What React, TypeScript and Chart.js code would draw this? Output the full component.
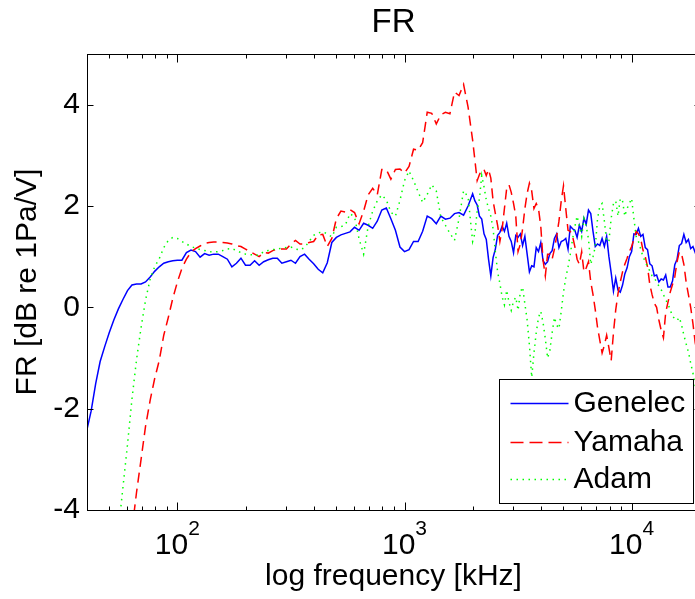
import React, { useEffect, useRef } from 'react';
import { Chart, registerables } from 'chart.js';

Chart.register(...registerables);

const TITLE = 'FR';
const X_TITLE = 'log frequency [kHz]';
const Y_TITLE = 'FR [dB re 1Pa/V]';

// frequency grid (Hz)
const FREQS = [
  39.8, 41.7, 43.7, 45.7, 47.9, 50.1, 52.5, 55.0, 57.5, 60.3,
  63.1, 66.1, 69.2, 72.4, 75.9, 79.4, 83.2, 87.1, 91.2, 95.5,
  100, 104.7, 109.6, 114.8, 120.2, 125.9, 131.8, 138.0, 144.5, 151.4,
  158.5, 166.0, 173.8, 182.0, 190.5, 199.5, 208.9, 218.8, 229.1, 239.9,
  251.2, 263.0, 275.4, 288.4, 302.0, 316.2, 331.1, 346.7, 363.1, 380.2,
  398.1, 416.9, 436.5, 457.1, 478.6, 501.2, 524.8, 549.5, 575.4, 602.6,
  631.0, 660.7, 691.8, 724.4, 758.6, 794.3, 831.8, 871.0, 912.0, 955.0,
  1000, 1047, 1096, 1148, 1202, 1259, 1318, 1380, 1445, 1514,
  1585, 1660, 1738, 1820, 1905,
  1995, 2042, 2089, 2138, 2188, 2239, 2291, 2344, 2399, 2455,
  2512, 2570, 2630, 2692, 2754, 2818, 2884, 2951, 3020, 3090,
  3162, 3236, 3311, 3388, 3467, 3548, 3631, 3715, 3802, 3890,
  3981, 4074, 4169, 4266, 4365, 4467, 4571, 4677, 4786, 4898,
  5012, 5129, 5248, 5370, 5495, 5623, 5754, 5888, 6026, 6166,
  6310, 6457, 6607, 6761, 6918, 7079, 7244, 7413, 7586, 7762,
  7943, 8128, 8318, 8511, 8710, 8913, 9120, 9333, 9550, 9772,
  10000, 10233, 10471, 10715, 10965, 11220, 11482, 11749, 12023, 12303,
  12589, 12882, 13183, 13490, 13804, 14125, 14454, 14791, 15136, 15488,
  15849, 16218, 16596, 16982, 17378, 17783, 18197, 18621, 19055, 19498,
  19953,
];

const GENELEC = [
  -2.45, -2.05, -1.5, -1.07, -0.77, -0.5, -0.25, -0.03, 0.15, 0.33,
  0.44, 0.46, 0.46, 0.5, 0.6, 0.71, 0.8, 0.87, 0.9, 0.92,
  0.93, 0.93, 1.08, 1.13, 1.1, 0.99, 1.06, 1.03, 1.05, 1.05,
  1.0, 0.95, 0.8, 0.87, 0.97, 0.83, 0.83, 0.92, 0.83, 0.9,
  0.94, 0.97, 0.97, 0.87, 0.9, 0.93, 0.87, 1.0, 1.05, 0.95,
  0.86, 0.75, 0.68, 0.88, 1.28, 1.38, 1.43, 1.46, 1.49, 1.58,
  1.52, 1.66, 1.62, 1.56, 1.7, 1.92, 1.96, 1.75, 1.52, 1.19,
  1.1, 1.14, 1.3, 1.3, 1.5, 1.8, 1.75, 1.65, 1.8, 1.74,
  1.76, 1.85, 1.87, 1.82, 2.0,
  2.24, 2.1, 2.02, 1.8, 1.74, 1.45, 1.34, 0.95, 0.62, 0.98,
  1.15, 1.42, 1.48, 1.6, 1.5, 1.66, 1.4, 1.3, 1.08, 1.42,
  1.38, 1.45, 1.22, 1.4, 1.05, 0.7, 0.82, 0.8, 1.18, 1.1,
  1.28, 0.92, 0.85, 0.9, 1.06, 1.12, 1.36, 1.45, 1.18, 1.3,
  1.32, 1.36, 1.15, 1.6, 1.55, 1.52, 1.38, 1.62, 1.5, 1.76,
  1.64, 1.92, 1.85, 1.5, 1.2, 1.25, 1.22, 1.36, 1.2, 1.4,
  1.0, 0.68, 0.32, 0.58, 0.34, 0.3, 0.44, 0.66, 0.78, 1.0,
  1.1, 1.45, 1.44, 1.56, 1.4, 1.44, 1.18, 1.14, 0.86, 0.82,
  0.62, 0.64, 0.5, 0.56, 0.54, 0.64, 0.4, 0.4, 0.52, 0.84,
  0.95, 1.22, 1.26, 1.44, 1.28, 1.34, 1.16, 1.2, 1.08, 1.14,
  1.1,
];

const YAMAHA = [
  null, null, null, null, null, null, null, null, null, null,
  -4.4, -3.65, -3.0, -2.35, -1.83, -1.41, -1.05, -0.55, -0.2, 0.18,
  0.5, 0.77, 0.95, 1.09, 1.16, 1.21, 1.26, 1.28, 1.29, 1.29,
  1.28, 1.27, 1.25, 1.22, 1.2, 1.15, 1.1, 1.05, 1.0, 1.08,
  1.07, 1.12, 1.15, 1.15, 1.15, 1.25, 1.32, 1.25, 1.25, 1.28,
  1.3, 1.43, 1.44, 1.2, 1.36, 1.75, 1.9, 1.88, 1.93, 1.87,
  1.65, 1.9, 2.22, 2.35, 2.22, 2.72, 2.72, 2.53, 2.72, 2.73,
  2.65, 2.78, 3.12, 3.1, 3.25, 3.85, 3.83, 3.62, 3.8, 3.85,
  3.82, 4.25, 4.18, 4.4, 3.95,
  3.3, 2.9, 2.5, 2.62, 2.72, 2.72, 2.6, 2.72, 2.55, 2.1,
  1.85, 1.62, 1.3, 1.55, 1.95, 2.35, 2.42, 2.27, 2.05, 1.8,
  1.1, 1.25, 1.55, 1.95, 2.25, 2.45, 2.3, 1.95, 2.05, 1.95,
  1.6, 0.93, 0.62, 1.05, 1.05, 0.95, 1.15, 1.4, 1.7, 2.1,
  2.4, 1.95, 1.52, 1.5, 1.4, 1.2, 0.95, 0.85, 1.1, 0.7,
  0.78, 0.9, 0.5, 0.25, -0.05, -0.4, -0.65, -0.9, -0.75, -0.55,
  -0.8, -1.05, -0.5, -0.05, 0.27, 0.5, 0.7, 0.85, 0.97, 1.1,
  1.2, 1.35, 1.5, 1.45, 1.35, 1.13, 1.0, 0.8, 0.45, 0.25,
  0.08, 0.0, -0.25, -0.45, -0.6, -0.1, 0.1, 0.3, 0.45, 0.6,
  0.9, 1.1, 1.05, 0.85, 0.5, 0.25, 0.0, -0.32, -0.7, -0.9,
  -1.0,
];

const ADAM = [
  null, null, null, null, null, null, null, -4.4, -3.58, -2.71,
  -1.81, -1.03, -0.4, 0.14, 0.56, 0.8, 0.96, 1.18, 1.32, 1.38,
  1.36, 1.3, 1.25, 1.2, 1.17, 1.14, 1.12, 1.1, 1.09, 1.1,
  1.12, 1.15, 1.16, 1.12, 1.08, 1.05, 1.04, 1.03, 1.03, 1.1,
  1.12, 1.14, 1.15, 1.17, 1.18, 1.19, 1.15, 1.13, 1.18, 1.3,
  1.42, 1.47, 1.49, 1.45, 1.39, 1.58, 1.59, 1.63, 1.85, 1.78,
  1.35, 1.05, 1.6, 1.9, 2.1, 2.22, 2.12, 1.88, 1.8, 2.11,
  2.5, 2.69, 2.5, 2.28, 2.07, 2.23, 2.42, 2.3, 1.78, 1.62,
  1.46, 1.32, 1.75, 2.3, 2.18,
  1.3, 1.46, 1.9, 2.15, 2.6, 2.38, 2.12, 1.95, 1.8, 1.55,
  1.1, 0.7, 0.47, 0.2, 0.05, 0.34, 0.1, -0.06, 0.12, 0.2,
  -0.06, 0.3, 0.4, 0.07, -0.25, -0.75, -1.38, -0.9, -0.5, -0.2,
  -0.08, -0.3, -0.62, -1.0, -0.85, -0.5, -0.2, -0.35, -0.42, -0.08,
  0.3, 0.58, 0.8, 1.05, 1.35, 1.59, 1.8, 1.6, 1.4, 1.75,
  1.6, 1.35, 0.85, 1.0, 1.2, 1.75, 2.0, 2.05, 1.7, 1.3,
  1.3, 1.76, 2.05, 2.1, 1.8, 2.15, 2.1, 1.8, 1.95, 2.05,
  2.15, 1.75, 1.4, 1.3, 1.15, 1.0, 0.9, 0.8, 0.72, 0.62,
  0.58, 0.5, 0.42, 0.35, 0.25, 0.15, 0.07, -0.05, -0.18, -0.22,
  -0.26, -0.2, -0.35, -0.55, -0.72, -0.88, -1.1, -1.3, -1.55, -1.7,
  -1.85,
];

const Y_TICKS = [-4, -2, 0, 2, 4];
const X_MAJOR = [100, 1000, 10000];
const X_EXP = ['2', '3', '4'];
const X_MINOR = [50, 60, 70, 80, 90, 200, 300, 400, 500, 600, 700, 800, 900,
  2000, 3000, 4000, 5000, 6000, 7000, 8000, 9000];

const SERIES = [
  { label: 'Genelec', color: '#0000ff', dash: [] as number[], values: GENELEC, order: 3 },
  { label: 'Yamaha', color: '#ff0000', dash: [10, 6], values: YAMAHA, order: 2 },
  { label: 'Adam', color: '#00ff00', dash: [1.5, 4.5], values: ADAM, order: 1 },
];

const FONT = '"Liberation Sans", Arial, Helvetica, sans-serif';

const matlabPlugin = {
  id: 'matlabAxes',
  afterDatasetsDraw(chart: any) {
    const { ctx, chartArea: a, scales } = chart;
    const xs = scales.x;
    const ys = scales.y;
    ctx.save();
    ctx.strokeStyle = '#000';
    ctx.lineWidth = 1;
    ctx.setLineDash([]);
    const L = Math.round(a.left) + 0.5;
    const R = Math.round(a.right) + 0.5;
    const T = Math.round(a.top) + 0.5;
    const B = Math.round(a.bottom) + 0.5;
    ctx.strokeRect(L, T, R - L, B - T);
    ctx.beginPath();
    for (const v of X_MAJOR) {
      const px = Math.round(xs.getPixelForValue(v)) + 0.5;
      ctx.moveTo(px, B); ctx.lineTo(px, B - 8);
      ctx.moveTo(px, T); ctx.lineTo(px, T + 8);
    }
    for (const v of X_MINOR) {
      const px = Math.round(xs.getPixelForValue(v)) + 0.5;
      ctx.moveTo(px, B); ctx.lineTo(px, B - 4);
      ctx.moveTo(px, T); ctx.lineTo(px, T + 4);
    }
    for (const v of Y_TICKS) {
      const py = Math.round(ys.getPixelForValue(v)) + 0.5;
      ctx.moveTo(L, py); ctx.lineTo(L + 6, py);
      ctx.moveTo(R, py); ctx.lineTo(R - 6, py);
    }
    ctx.stroke();

    ctx.fillStyle = '#000';
    ctx.textBaseline = 'alphabetic';
    ctx.textAlign = 'left';
    X_MAJOR.forEach((v, i) => {
      const px = xs.getPixelForValue(v);
      ctx.font = `30px ${FONT}`;
      const w = ctx.measureText('10').width;
      ctx.font = `21px ${FONT}`;
      const ew = ctx.measureText(X_EXP[i]).width;
      const start = px - (w + ew) / 2;
      ctx.font = `30px ${FONT}`;
      ctx.fillText('10', start, a.bottom + 44);
      ctx.font = `21px ${FONT}`;
      ctx.fillText(X_EXP[i], start + w, a.bottom + 25);
    });

    ctx.font = `33px ${FONT}`;
    ctx.textAlign = 'center';
    ctx.fillText(TITLE, (a.left + a.right) / 2, 32);
    ctx.restore();
  },
  afterDraw(chart: any) {
    const { ctx, chartArea: a } = chart;
    ctx.save();
    const right = Math.round(a.right) - 7 + 0.5;
    const bottom = Math.round(a.bottom) - 7 + 0.5;
    const left = right - 194;
    const top = bottom - 124;
    ctx.fillStyle = '#fff';
    ctx.fillRect(left, top, right - left, bottom - top);
    ctx.strokeStyle = '#000';
    ctx.lineWidth = 1;
    ctx.setLineDash([]);
    ctx.strokeRect(left, top, right - left, bottom - top);
    const rows = [bottom - 101, bottom - 62, bottom - 25];
    SERIES.forEach((s, i) => {
      const y = Math.round(rows[i]) + 0.5;
      ctx.beginPath();
      ctx.strokeStyle = s.color;
      ctx.lineWidth = 1.4;
      ctx.setLineDash(s.label === 'Yamaha' ? [13, 6] : s.dash);
      ctx.moveTo(left + 11, y);
      ctx.lineTo(left + 69, y);
      ctx.stroke();
      ctx.setLineDash([]);
      ctx.fillStyle = '#000';
      ctx.font = `30px ${FONT}`;
      ctx.textAlign = 'left';
      ctx.textBaseline = 'middle';
      ctx.fillText(s.label, left + 74, y);
    });
    ctx.restore();
  },
};

export default function App() {
  const ref = useRef<HTMLCanvasElement | null>(null);
  useEffect(() => {
    if (!ref.current) return;
    const chart = new Chart(ref.current, {
      type: 'line',
      data: {
        datasets: SERIES.map((s) => ({
          label: s.label,
          data: FREQS.map((f, i) => ({ x: f, y: s.values[i] })),
          borderColor: s.color,
          backgroundColor: s.color,
          borderWidth: 1.5,
          borderDash: s.dash,
          pointRadius: 0,
          tension: 0,
          fill: false,
          spanGaps: false,
          clip: 0,
          order: s.order,
        })),
      },
      options: {
        responsive: false,
        animation: false,
        devicePixelRatio: 1,
        layout: { padding: { top: 54, right: 2, bottom: 0, left: 0 } },
        plugins: {
          legend: { display: false },
          tooltip: { enabled: false },
          title: { display: false },
        },
        scales: {
          x: {
            type: 'logarithmic',
            min: 40,
            max: 20000,
            grid: { display: false, drawTicks: false },
            border: { display: false },
            ticks: { display: false },
            afterBuildTicks: (s: any) => { s.ticks = X_MAJOR.map((v) => ({ value: v })); },
            afterFit: (s: any) => { s.height = 89; },
            title: {
              display: true,
              text: X_TITLE,
              color: '#000',
              font: { family: FONT, size: 30 },
              padding: { top: 0, bottom: 4 },
            },
          },
          y: {
            type: 'linear',
            min: -4,
            max: 5,
            grid: { display: false, drawTicks: false },
            border: { display: false },
            ticks: { color: '#000', font: { family: FONT, size: 30 }, padding: 7 },
            afterBuildTicks: (s: any) => { s.ticks = Y_TICKS.map((v) => ({ value: v })); },
            afterFit: (s: any) => { s.width = 87; },
            title: {
              display: true,
              text: Y_TITLE,
              color: '#000',
              font: { family: FONT, size: 30 },
              padding: { top: 10, bottom: 0 },
            },
          },
        },
      },
      plugins: [matlabPlugin],
    } as any);
    return () => chart.destroy();
  }, []);
  return (
    <div style={{ position: 'absolute', left: 0, top: 0, width: 695, height: 599, overflow: 'hidden', background: '#fff' }}>
      <canvas ref={ref} width={702} height={599} style={{ display: 'block', width: 702, height: 599 }} />
    </div>
  );
}
